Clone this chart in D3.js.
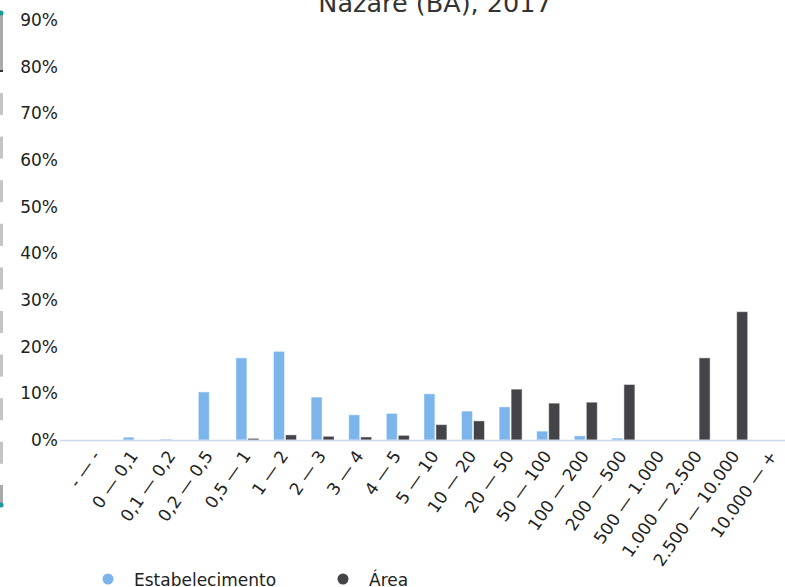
<!DOCTYPE html>
<html>
<head>
<meta charset="utf-8">
<script src="https://cdn.jsdelivr.net/npm/d3@7"></script>
<style>
  body { margin: 0; background: #fff; overflow: hidden; }
  text { font-family: "DejaVu Sans", sans-serif; }
</style>
</head>
<body>
<div class="viewbox"></div>
<script>
  // classes of area (ha)
  const categories = ["- — -", "0 — 0,1", "0,1 — 0,2", "0,2 — 0,5", "0,5 — 1", "1 — 2",
    "2 — 3", "3 — 4", "4 — 5", "5 — 10", "10 — 20", "20 — 50", "50 — 100",
    "100 — 200", "200 — 500", "500 — 1.000", "1.000 — 2.500", "2.500 — 10.000", "10.000 — +"]

  const estabelecimento = [0, 0.6, 0.2, 10.3, 17.6, 19.0, 9.2, 5.4, 5.7, 9.9, 6.2, 7.1, 1.9, 0.9, 0.4, 0, 0, 0, 0]
  const area = [0, 0, 0, 0, 0.35, 1.1, 0.8, 0.65, 1.0, 3.3, 4.1, 10.9, 7.9, 8.1, 11.9, 0, 17.6, 27.5, 0]

  const seriesNames = ["Estabelecimento", "Área"]
  const COLORS = ["#7cb5ec", "#434348"]
  const yTicks = [0, 10, 20, 30, 40, 50, 60, 70, 80, 90]

  const svg_width = 785
  const svg_height = 587

  let svg = d3.select(".viewbox")
    .append("svg")
    .attr("width", svg_width)
    .attr("height", svg_height)

  // the chart is wider than the window, so the right side gets cut off
  let x = d3.scaleBand().domain(categories).range([78.2, 792.6])
  let x1 = d3.scaleBand().domain(seriesNames).range([0, x.bandwidth()])
    .paddingInner(0.083).paddingOuter(0.608)
  let y = d3.scaleLinear().domain([0, 90]).range([440, 20])

  // title (top is cropped)
  svg.append("text")
    .attr("x", 435)
    .attr("y", 12)
    .attr("text-anchor", "middle")
    .style("font-size", "25.5px")
    .style("fill", "#333")
    .text("Nazaré (BA), 2017")

  // the little range slider thing on the left edge
  let slider = svg.append("g")
  slider.append("rect").attr("x", 0).attr("y", 12).attr("width", 3).attr("height", 60).attr("fill", "#aaa")
  slider.append("rect").attr("x", 0).attr("y", 70).attr("width", 3).attr("height", 2).attr("fill", "#333")
  d3.range(9).forEach(i => {
    slider.append("rect").attr("x", 0).attr("y", 93 + i * 43.6).attr("width", 3).attr("height", 22).attr("fill", "#c4c4c4")
  })
  slider.append("rect").attr("x", 0).attr("y", 485).attr("width", 3).attr("height", 20).attr("fill", "#aaa")
  slider.append("circle").attr("cx", 1).attr("cy", 13).attr("r", 2.5).attr("fill", "#17989a")
  slider.append("circle").attr("cx", 1).attr("cy", 505).attr("r", 2.5).attr("fill", "#17989a")

  // y labels, no gridlines
  svg.append("g")
    .selectAll("text")
    .data(yTicks)
    .enter()
    .append("text")
    .attr("x", 58)
    .attr("y", d => y(d))
    .attr("dy", "0.35em")
    .attr("text-anchor", "end")
    .style("font-size", "17px")
    .style("fill", "#222")
    .text(d => d + "%")

  // bars
  let groups = svg.append("g")
    .selectAll("g")
    .data(categories)
    .enter()
    .append("g")
    .attr("transform", d => "translate(" + x(d) + ",0)")

  groups.selectAll("rect")
    .data((d, i) => [
      { key: seriesNames[0], value: estabelecimento[i] },
      { key: seriesNames[1], value: area[i] }
    ])
    .enter()
    .append("rect")
    .attr("x", d => x1(d.key))
    .attr("width", x1.bandwidth())
    .attr("y", d => y(d.value))
    .attr("height", d => y(0) - y(d.value))
    .attr("fill", (d, i) => COLORS[i])
    .attr("stroke", "#fff")
    .attr("stroke-opacity", 0.5)
    .attr("stroke-width", 1)

  // x axis line
  svg.append("line")
    .attr("x1", 60).attr("x2", svg_width)
    .attr("y1", 440.5).attr("y2", 440.5)
    .attr("stroke", "#ccd6eb")
    .attr("stroke-width", 1.5)

  // rotated category labels (steeper than 45deg in the original)
  svg.append("g")
    .selectAll("text")
    .data(categories)
    .enter()
    .append("text")
    .attr("transform", d => "translate(" + (x(d) + x.bandwidth() / 2 + 4) + ",456) rotate(-55)")
    .attr("text-anchor", "end")
    .style("font-size", "17px")
    .style("fill", "#222")
    .text(d => d)

  // legend
  let legend = svg.append("g")
    .selectAll("g")
    .data(seriesNames)
    .enter()
    .append("g")
    .attr("transform", (d, i) => "translate(" + (108 + i * 235) + ",0)")

  legend.append("circle")
    .attr("cx", 0)
    .attr("cy", 579)
    .attr("r", 5.5)
    .attr("fill", (d, i) => COLORS[i])

  legend.append("text")
    .attr("x", 26)
    .attr("y", 586)
    .style("font-size", "17px")
    .style("fill", "#222")
    .text(d => d)
</script>
</body>
</html>
